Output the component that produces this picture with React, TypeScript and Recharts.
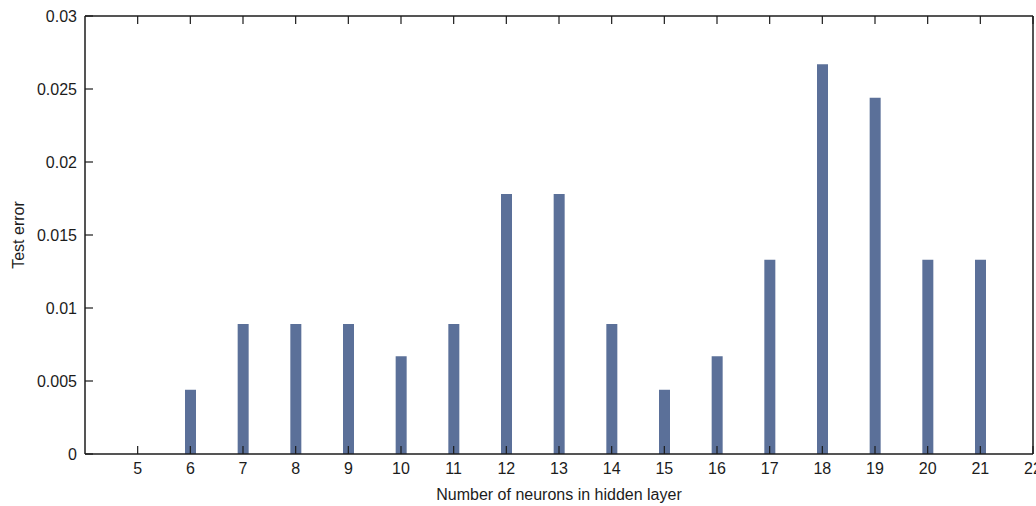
import { BarChart, Bar, XAxis, YAxis } from "recharts";

// hidden layer size vs test error
const neurons = [5, 6, 7, 8, 9, 10, 11, 12, 13, 14, 15, 16, 17, 18, 19, 20, 21];
const testError = [
  0, 0.0044, 0.0089, 0.0089, 0.0089, 0.0067, 0.0089, 0.0178, 0.0178, 0.0089,
  0.0044, 0.0067, 0.0133, 0.0267, 0.0244, 0.0133, 0.0133,
];
const xTicks = [5, 6, 7, 8, 9, 10, 11, 12, 13, 14, 15, 16, 17, 18, 19, 20, 21, 22];
const yTicks = [0, 0.005, 0.01, 0.015, 0.02, 0.025, 0.03];

const data = neurons.map((n, i) => ({ n, err: testError[i] }));

const FONT = "'Liberation Sans', Arial, sans-serif";
const INK = "#1c1c1c";
const TICK_LEN = 8;
const MARGIN = 8;

function BottomTick(props: any) {
  const { x, y, payload } = props;
  const axisY = y - MARGIN;
  return (
    <g>
      <line x1={x} x2={x} y1={axisY} y2={axisY - TICK_LEN} stroke={INK} strokeWidth={1.2} />
      <text x={x} y={y} dy={12} textAnchor="middle" fontSize={16} fontFamily={FONT} fill={INK}>
        {payload.value}
      </text>
    </g>
  );
}

function TopTick(props: any) {
  const { x, y } = props;
  const axisY = y + MARGIN;
  return <line x1={x} x2={x} y1={axisY} y2={axisY + TICK_LEN} stroke={INK} strokeWidth={1.2} />;
}

function LeftTick(props: any) {
  const { x, y, payload } = props;
  const axisX = x + MARGIN;
  return (
    <g>
      <line x1={axisX} x2={axisX + TICK_LEN} y1={y} y2={y} stroke={INK} strokeWidth={1.2} />
      <text x={x} y={y} dy={6} textAnchor="end" fontSize={16} fontFamily={FONT} fill={INK}>
        {String(payload.value)}
      </text>
    </g>
  );
}

function RightTick(props: any) {
  const { x, y } = props;
  const axisX = x - MARGIN;
  return <line x1={axisX} x2={axisX - TICK_LEN} y1={y} y2={y} stroke={INK} strokeWidth={1.2} />;
}

export default function App() {
  return (
    <div style={{ position: "absolute", left: 0, top: 0, background: "#fff" }}>
      <BarChart
        width={1036}
        height={506}
        data={data}
        margin={{ top: 15, right: 2, left: 0, bottom: 0 }}
      >
        <XAxis
          dataKey="n"
          type="number"
          domain={[4, 22]}
          ticks={xTicks}
          interval={0}
          allowDataOverflow
          height={52}
          tickSize={0}
          tickMargin={MARGIN}
          tick={<BottomTick />}
          axisLine={{ stroke: INK, strokeWidth: 1.5 }}
          label={{
            value: "Number of neurons in hidden layer",
            position: "insideBottom",
            offset: 6,
            fontSize: 16,
            fontFamily: FONT,
            fill: INK,
          }}
        />
        <XAxis
          xAxisId="top"
          dataKey="n"
          type="number"
          orientation="top"
          domain={[4, 22]}
          ticks={xTicks}
          interval={0}
          height={1}
          tickSize={0}
          tickMargin={MARGIN}
          tick={<TopTick />}
          axisLine={{ stroke: INK, strokeWidth: 1.5 }}
        />
        <YAxis
          domain={[0, 0.03]}
          ticks={yTicks}
          interval={0}
          width={85}
          tickSize={0}
          tickMargin={MARGIN}
          tick={<LeftTick />}
          axisLine={{ stroke: INK, strokeWidth: 1.5 }}
          label={{
            value: "Test error",
            angle: -90,
            position: "insideLeft",
            offset: 18,
            fontSize: 16,
            fontFamily: FONT,
            fill: INK,
            style: { textAnchor: "middle" },
          }}
        />
        <YAxis
          yAxisId="right"
          orientation="right"
          domain={[0, 0.03]}
          ticks={yTicks}
          interval={0}
          width={1}
          tickSize={0}
          tickMargin={MARGIN}
          tick={<RightTick />}
          axisLine={{ stroke: INK, strokeWidth: 1.5 }}
        />
        <Bar dataKey="err" fill="#5b7099" barSize={11} isAnimationActive={false} />
      </BarChart>
    </div>
  );
}
